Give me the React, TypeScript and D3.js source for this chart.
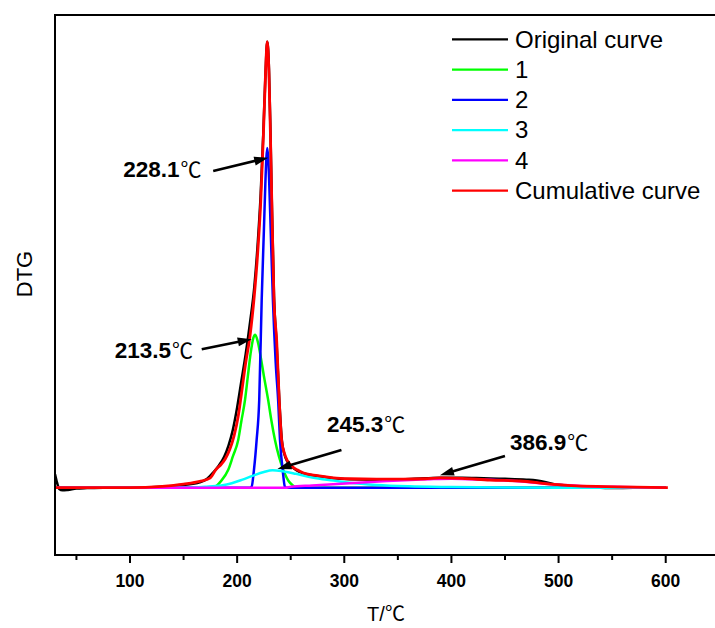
import * as d3 from 'd3';

// DTG curves: [T (°C), DTG (arbitrary units)]
const ORIGINAL: [number, number][] = [
  [30, 0.3], [31.5, 0.15], [34, -0.03], [37, -0.06], [42, -0.05], [50, -0.02], [60, -0.01], [75, 0],
  [100, 0], [130, 0.02], [150, 0.06], [165, 0.12], [172, 0.2], [178, 0.35], [183, 0.5], [188, 0.7],
  [192, 0.95], [196, 1.3], [200, 1.8], [204, 2.4], [208, 3.0], [212, 3.7], [216, 4.5], [219, 5.4],
  [222, 6.6], [224.5, 8.0], [226.5, 9.3], [228.1, 10.0], [229.7, 9.4], [231, 8.1], [232.3, 6.5],
  [234.4, 4.3], [236.9, 3.2], [239.5, 1.9], [241.8, 1.05], [244, 0.76], [247, 0.58], [251, 0.47],
  [256, 0.38], [262, 0.32], [275, 0.26], [290, 0.21], [305, 0.19], [330, 0.18], [355, 0.19],
  [375, 0.21], [390, 0.22], [410, 0.22], [430, 0.21], [450, 0.2], [470, 0.18], [485, 0.14],
  [495, 0.08], [510, 0.04], [530, 0.01], [550, -0.01], [570, 0], [600, 0],
];

const PEAK1: [number, number][] = [
  [30, 0], [170, 0], [179, 0.02], [185, 0.15], [191.7, 0.4], [196, 0.7], [201, 1.07], [204, 1.5],
  [207.3, 1.96], [210, 2.5], [212.5, 3.0], [215, 3.35], [216.9, 3.43], [219, 3.3], [221.5, 3.0],
  [225, 2.5], [229, 1.96], [232, 1.5], [235.3, 1.07], [239, 0.7], [243.1, 0.4], [248, 0.15],
  [252, 0.05], [256, 0], [600, 0],
];

const PEAK2: [number, number][] = [
  [30, 0], [212, 0], [213.5, 0.02], [215.7, 0.4], [218.2, 1.07], [220.6, 1.96], [222.9, 4.2],
  [225, 5.8], [226.3, 6.8], [227.3, 7.4], [228.1, 7.62], [229, 7.4], [230, 6.8], [231.3, 5.8],
  [233.4, 4.2], [236, 2.8], [238.4, 1.9], [240, 1.07], [242.5, 0.4], [244.6, 0.02], [246, 0], [600, 0],
];

const PEAK3: [number, number][] = [
  [30, 0], [150, 0], [170, 0.02], [185, 0.05], [195, 0.1], [205, 0.18], [215, 0.27], [225, 0.35],
  [233, 0.39], [242, 0.37], [255, 0.31], [270, 0.23], [290, 0.16], [305, 0.11], [330, 0.06],
  [360, 0.03], [400, 0.015], [450, 0.005], [500, 0], [600, 0],
];

const PEAK4: [number, number][] = [
  [30, 0], [245, 0], [250, 0.02], [270, 0.05], [305, 0.1], [340, 0.15], [380, 0.19], [400, 0.2],
  [430, 0.18], [460, 0.15], [490, 0.08], [520, 0.04], [560, 0.015], [600, 0],
];

const CUMULATIVE: [number, number][] = [
  [30, 0], [60, 0], [100, 0], [130, 0.03], [150, 0.08], [165, 0.14], [175, 0.22], [180, 0.4],
  [185, 0.52], [189, 0.65], [193, 0.85], [197, 1.15], [201, 1.6], [204, 2.1], [208, 2.8], [212, 3.4],
  [216, 4.3], [219, 5.2], [222, 6.4], [224.5, 7.9], [226.5, 9.3], [228.1, 10], [229.7, 9.3],
  [231, 8.0], [232.3, 6.45], [234.4, 4.2], [236.9, 3.3], [239.3, 1.96], [241.5, 1.07], [244, 0.78],
  [247, 0.6], [251, 0.48], [256, 0.4], [262, 0.33], [275, 0.27], [290, 0.22], [305, 0.2], [330, 0.19],
  [355, 0.19], [375, 0.2], [390, 0.22], [410, 0.21], [436, 0.17], [464, 0.15], [492, 0.08],
  [517, 0.04], [557, 0.02], [602, 0],
];

const SERIES_NAMES = ['Original curve', '1', '2', '3', '4', 'Cumulative curve'];
const SERIES_DATA = [ORIGINAL, PEAK1, PEAK2, PEAK3, PEAK4, CUMULATIVE];
const SERIES_COLORS = ['#000000', '#00ff00', '#0000ff', '#00ffff', '#ff00ff', '#ff0000'];
const SERIES_WIDTHS = [2.5, 2.5, 2.5, 2.5, 2.5, 2.8];

const MAJOR_TICKS = [100, 200, 300, 400, 500, 600];
const MINOR_TICKS = [50, 150, 250, 350, 450, 550];

// peak annotations: label and the point on the curve the arrow points to
const PEAK_LABELS = ['228.1', '213.5', '245.3', '386.9'];
const PEAK_POINTS: [number, number][] = [[229, 7.4], [213.6, 3.33], [237.6, 0.42], [389.3, 0.28]];
// pixel offsets from the arrow tip: [tailDx, tailDy, textDx, textDy]
const LABEL_OFFSETS = [
  [-55, 13.4, -145, 19.4],
  [-50, 10, -137, 19],
  [64, -19, 49.5, -36.8],
  [65, -19.3, 70, -25],
];

const FONT = "'Liberation Sans', Arial, sans-serif";
const CJK = "'Noto Sans CJK SC', 'DejaVu Sans', sans-serif";

export default function App() {
  const width = 715;
  const height = 628;
  const left = 55;
  const top = 15;
  const bottom = 555;

  const x = d3.scaleLinear().domain([30, 646]).range([left, width]);
  const y = d3.scaleLinear().domain([-1.51, 10.6]).range([bottom, top]);

  const line = d3
    .line<[number, number]>()
    .x((d) => x(d[0]))
    .y((d) => y(d[1]))
    .curve(d3.curveMonotoneX);

  return (
    <svg
      width={width}
      height={height}
      style={{ position: 'absolute', left: 0, top: 0, background: '#fff' }}
      fontFamily={FONT}
    >
      <defs>
        <clipPath id="plot">
          <rect x={left} y={top} width={width - left} height={bottom - top} />
        </clipPath>
      </defs>

      {/* curves */}
      <g clipPath="url(#plot)">
        {SERIES_DATA.map((data, i) => (
          <path
            key={SERIES_NAMES[i]}
            d={line(data) ?? ''}
            fill="none"
            stroke={SERIES_COLORS[i]}
            strokeWidth={SERIES_WIDTHS[i]}
            strokeLinejoin="round"
          />
        ))}
      </g>

      {/* frame */}
      <line x1={left} x2={width} y1={top} y2={top} stroke="#000" strokeWidth="2" />
      <line x1={left} x2={left} y1={top - 1} y2={bottom + 1} stroke="#000" strokeWidth="2" />
      <line x1={left} x2={width} y1={bottom} y2={bottom} stroke="#000" strokeWidth="2" />

      {/* x axis ticks */}
      {MAJOR_TICKS.map((t) => (
        <g key={`M${t}`}>
          <line x1={x(t)} x2={x(t)} y1={bottom} y2={bottom + 8} stroke="#000" strokeWidth="2" />
          <text x={x(t)} y={587} textAnchor="middle" fontSize="17.5" fontWeight="bold">
            {t}
          </text>
        </g>
      ))}
      {MINOR_TICKS.map((t) => (
        <line key={`m${t}`} x1={x(t)} x2={x(t)} y1={bottom} y2={bottom + 5} stroke="#000" strokeWidth="2" />
      ))}

      {/* axis titles */}
      <text x={386} y={621} textAnchor="middle" fontSize="20">
        T/<tspan fontFamily={CJK}>℃</tspan>
      </text>
      <text transform="translate(32,274) rotate(-90)" textAnchor="middle" fontSize="22">
        DTG
      </text>

      {/* annotations */}
      {PEAK_LABELS.map((label, i) => {
        const tx = x(PEAK_POINTS[i][0]);
        const ty = y(PEAK_POINTS[i][1]);
        const [tdx, tdy, lx, ly] = LABEL_OFFSETS[i];
        const sx = tx + tdx;
        const sy = ty + tdy;
        const len = Math.hypot(tx - sx, ty - sy);
        const ux = (tx - sx) / len;
        const uy = (ty - sy) / len;
        const bx = tx - ux * 14;
        const by = ty - uy * 14;
        const nx = -uy * 4.5;
        const ny = ux * 4.5;
        return (
          <g key={label}>
            <line x1={sx} y1={sy} x2={bx + ux * 2} y2={by + uy * 2} stroke="#000" strokeWidth="2.6" />
            <path d={`M${tx},${ty}L${bx + nx},${by + ny}L${bx - nx},${by - ny}Z`} fill="#000" />
            <text x={tx + lx} y={ty + ly} fontSize="22.5">
              <tspan fontWeight="bold">{label}</tspan>
              <tspan fontFamily={CJK} fontSize="21" dx="1">
                ℃
              </tspan>
            </text>
          </g>
        );
      })}

      {/* legend */}
      <g transform="translate(452,39.3)">
        {SERIES_NAMES.map((name, i) => (
          <g key={name} transform={`translate(0,${i * 30.25})`}>
            <line x1={0} x2={56} y1={0} y2={0} stroke={SERIES_COLORS[i]} strokeWidth="2.2" />
            <text x={63} y={8.4} fontSize="24">
              {name}
            </text>
          </g>
        ))}
      </g>
    </svg>
  );
}
